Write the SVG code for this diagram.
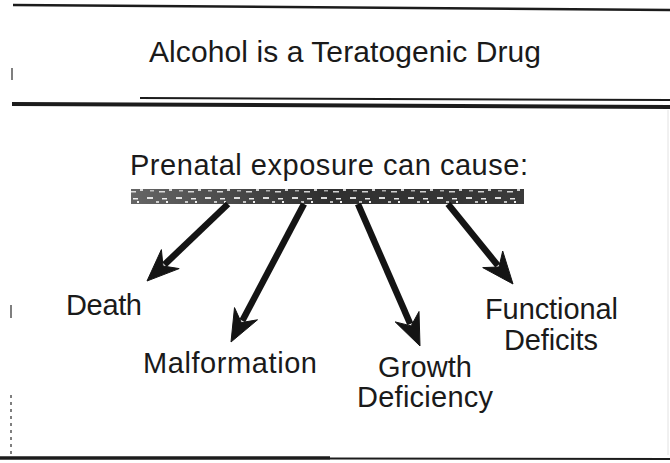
<svg xmlns="http://www.w3.org/2000/svg" width="670" height="463" viewBox="0 0 670 463">
  <style>
    .t { font-family: "Liberation Sans", Arial, Helvetica, sans-serif; font-size: 29px; fill: #1a1a1a; }
    .title { font-size: 30px; }
    .rule { stroke: #1c1c1c; fill: none; stroke-linecap: butt; }
    .shaft { stroke: #141414; stroke-width: 6.5; fill: none; stroke-linecap: butt; }
    .head { fill: #141414; stroke: #141414; stroke-width: 1; stroke-linejoin: miter; }
    .edge { stroke: #555; stroke-width: 1.5; fill: none; }
  </style>
  <defs>
    <pattern id="speck" patternUnits="userSpaceOnUse" x="0" y="0" width="29" height="15">
      <rect width="29" height="15" fill="#242424"/>
      <rect x="2" y="2" width="6" height="2" fill="#d8d8d8"/>
      <rect x="11" y="6" width="3" height="2" fill="#bdbdbd"/>
      <rect x="17" y="3" width="5" height="1.5" fill="#e6e6e6"/>
      <rect x="24" y="9" width="3" height="2" fill="#cfcfcf"/>
      <rect x="5" y="10" width="4" height="1.5" fill="#a8a8a8"/>
      <rect x="14" y="11" width="6" height="1.5" fill="#d0d0d0"/>
      <rect x="21" y="6" width="2" height="2" fill="#f0f0f0"/>
    </pattern>
    <linearGradient id="barfade" x1="0" y1="0" x2="1" y2="0">
      <stop offset="0" stop-color="#ffffff" stop-opacity="0.3"/>
      <stop offset="0.5" stop-color="#ffffff" stop-opacity="0.05"/>
      <stop offset="1" stop-color="#ffffff" stop-opacity="0.1"/>
    </linearGradient>
  </defs>

  <rect width="670" height="463" fill="#ffffff"/>

  <!-- frame rules -->
  <g id="frame">
    <path class="rule" d="M13,5 L670,10" stroke-width="2.5"/>
    <path class="rule" d="M140,98 L670,100" stroke-width="2"/>
    <path class="rule" d="M12,104 L670,107" stroke-width="4"/>
    <path class="rule" d="M0,458 L330,458" stroke-width="3.5"/>
    <path class="rule" d="M330,458.5 L670,459" stroke-width="2" stroke="#6a6a6a"/>
    <path class="edge" d="M12,68 L12,80"/>
    <path class="edge" d="M11,305 L11,318"/>
    <path class="edge" d="M11,395 L11,456" stroke-dasharray="3,4"/>
    <path d="M668,110 L668,455" stroke="#e2e2e2" stroke-width="1" fill="none"/>
  </g>

  <!-- title -->
  <g id="title">
    <text class="t title" x="149" y="62" textLength="392" lengthAdjust="spacing">Alcohol is a Teratogenic Drug</text>
  </g>

  <!-- source node: heading + bar -->
  <g id="prenatal">
    <text class="t" x="130" y="175" textLength="398" lengthAdjust="spacing">Prenatal exposure can cause:</text>
    <rect x="131" y="189" width="393" height="15" fill="url(#speck)"/>
    <rect x="131" y="189" width="393" height="15" fill="url(#barfade)"/>
  </g>

  <!-- connectors -->
  <g id="connectors">
    <path class="shaft" d="M228,204 L164.5,264.6"/>
    <path class="head" d="M147,281 L161.4,249.6 L163,266 L179.2,268.6 Z"/>

    <path class="shaft" d="M304,204 L242.3,320.8"/>
    <path class="head" d="M231,342 L234.5,307.6 L241.3,322.6 L257.5,319.8 Z"/>

    <path class="shaft" d="M358,204 L410.3,324"/>
    <path class="head" d="M420,346 L395.2,321.9 L411.1,325.9 L419,311.5 Z"/>

    <path class="shaft" d="M448,204 L497.8,265.5"/>
    <path class="head" d="M513,284 L482.7,267.6 L499,267 L502.7,251 Z"/>
  </g>

  <!-- outcome nodes -->
  <g id="death">
    <text class="t" x="66" y="315" textLength="76" lengthAdjust="spacing">Death</text>
  </g>
  <g id="malformation">
    <text class="t" x="143" y="373" textLength="174" lengthAdjust="spacing">Malformation</text>
  </g>
  <g id="growth-deficiency">
    <text class="t" x="378" y="377" textLength="94" lengthAdjust="spacing">Growth</text>
    <text class="t" x="357" y="407" textLength="136" lengthAdjust="spacing">Deficiency</text>
  </g>
  <g id="functional-deficits">
    <text class="t" x="485" y="319" textLength="133" lengthAdjust="spacing">Functional</text>
    <text class="t" x="504" y="350" textLength="94" lengthAdjust="spacing">Deficits</text>
  </g>
</svg>
